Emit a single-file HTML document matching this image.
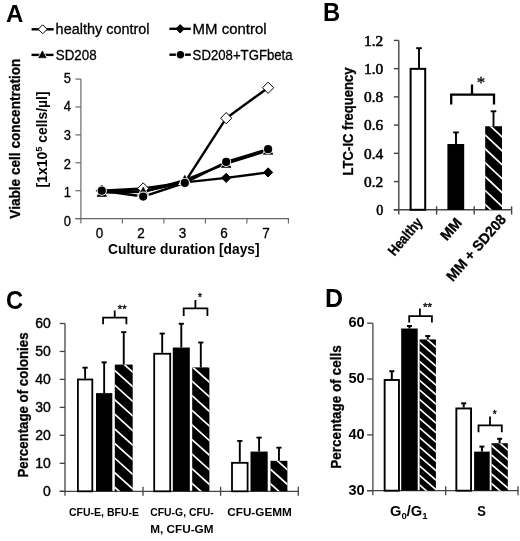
<!DOCTYPE html>
<html><head><meta charset="utf-8"><title>Figure</title>
<style>html,body{margin:0;padding:0;background:#fff;}svg{display:block;}</style>
</head><body>
<svg width="520" height="541" viewBox="0 0 520 541" style="filter:blur(0.45px)">
<rect width="520" height="541" fill="#fff"/>
<text x="6.0" y="21.6" font-size="24.5" font-weight="bold" text-anchor="start" font-family='"Liberation Sans", sans-serif' textLength="17.4" lengthAdjust="spacingAndGlyphs" >A</text>
<text x="323.0" y="20.7" font-size="25" font-weight="bold" text-anchor="start" font-family='"Liberation Sans", sans-serif' textLength="17.2" lengthAdjust="spacingAndGlyphs" >B</text>
<text x="6.0" y="308.6" font-size="25" font-weight="bold" text-anchor="start" font-family='"Liberation Sans", sans-serif' textLength="17.1" lengthAdjust="spacingAndGlyphs" >C</text>
<text x="324.9" y="307.2" font-size="25" font-weight="bold" text-anchor="start" font-family='"Liberation Sans", sans-serif' textLength="18.05" lengthAdjust="spacingAndGlyphs" >D</text>
<g id="panelA">
<line x1="80.9" y1="79.1" x2="80.9" y2="223.6" stroke="#666" stroke-width="1.15" />
<line x1="75.4" y1="218.6" x2="289" y2="218.6" stroke="#666" stroke-width="1.15" />
<line x1="75.4" y1="218.6" x2="80.9" y2="218.6" stroke="#666" stroke-width="1.15" />
<text x="70.9" y="225.9" font-size="14.6" font-weight="normal" text-anchor="end" font-family='"Liberation Sans", sans-serif' textLength="7.2" lengthAdjust="spacingAndGlyphs"  stroke="#000" stroke-width="0.3">0</text>
<line x1="75.4" y1="190.7" x2="80.9" y2="190.7" stroke="#666" stroke-width="1.15" />
<text x="70.9" y="197.26" font-size="14.6" font-weight="normal" text-anchor="end" font-family='"Liberation Sans", sans-serif' textLength="7.2" lengthAdjust="spacingAndGlyphs"  stroke="#000" stroke-width="0.3">1</text>
<line x1="75.4" y1="162.8" x2="80.9" y2="162.8" stroke="#666" stroke-width="1.15" />
<text x="70.9" y="168.62" font-size="14.6" font-weight="normal" text-anchor="end" font-family='"Liberation Sans", sans-serif' textLength="7.2" lengthAdjust="spacingAndGlyphs"  stroke="#000" stroke-width="0.3">2</text>
<line x1="75.4" y1="134.9" x2="80.9" y2="134.9" stroke="#666" stroke-width="1.15" />
<text x="70.9" y="139.98" font-size="14.6" font-weight="normal" text-anchor="end" font-family='"Liberation Sans", sans-serif' textLength="7.2" lengthAdjust="spacingAndGlyphs"  stroke="#000" stroke-width="0.3">3</text>
<line x1="75.4" y1="107.0" x2="80.9" y2="107.0" stroke="#666" stroke-width="1.15" />
<text x="70.9" y="111.34" font-size="14.6" font-weight="normal" text-anchor="end" font-family='"Liberation Sans", sans-serif' textLength="7.2" lengthAdjust="spacingAndGlyphs"  stroke="#000" stroke-width="0.3">4</text>
<line x1="75.4" y1="79.1" x2="80.9" y2="79.1" stroke="#666" stroke-width="1.15" />
<text x="70.9" y="82.7" font-size="14.6" font-weight="normal" text-anchor="end" font-family='"Liberation Sans", sans-serif' textLength="7.2" lengthAdjust="spacingAndGlyphs"  stroke="#000" stroke-width="0.3">5</text>
<line x1="122.4" y1="218.6" x2="122.4" y2="223.6" stroke="#666" stroke-width="1.15" />
<line x1="163.9" y1="218.6" x2="163.9" y2="223.6" stroke="#666" stroke-width="1.15" />
<line x1="205.4" y1="218.6" x2="205.4" y2="223.6" stroke="#666" stroke-width="1.15" />
<line x1="246.9" y1="218.6" x2="246.9" y2="223.6" stroke="#666" stroke-width="1.15" />
<line x1="288.4" y1="218.6" x2="288.4" y2="223.6" stroke="#666" stroke-width="1.15" />
<text x="99.6" y="237.6" font-size="14.3" font-weight="normal" text-anchor="middle" font-family='"Liberation Sans", sans-serif' textLength="7.5" lengthAdjust="spacingAndGlyphs"  stroke="#000" stroke-width="0.3">0</text>
<text x="141.0" y="237.6" font-size="14.3" font-weight="normal" text-anchor="middle" font-family='"Liberation Sans", sans-serif' textLength="7.5" lengthAdjust="spacingAndGlyphs"  stroke="#000" stroke-width="0.3">2</text>
<text x="182.60000000000002" y="237.6" font-size="14.3" font-weight="normal" text-anchor="middle" font-family='"Liberation Sans", sans-serif' textLength="7.5" lengthAdjust="spacingAndGlyphs"  stroke="#000" stroke-width="0.3">3</text>
<text x="224.0" y="237.6" font-size="14.3" font-weight="normal" text-anchor="middle" font-family='"Liberation Sans", sans-serif' textLength="7.5" lengthAdjust="spacingAndGlyphs"  stroke="#000" stroke-width="0.3">6</text>
<text x="265.90000000000003" y="237.6" font-size="14.3" font-weight="normal" text-anchor="middle" font-family='"Liberation Sans", sans-serif' textLength="7.5" lengthAdjust="spacingAndGlyphs"  stroke="#000" stroke-width="0.3">7</text>
<text x="183.8" y="254" font-size="14.2" font-weight="bold" text-anchor="middle" font-family='"Liberation Sans", sans-serif' textLength="151.5" lengthAdjust="spacingAndGlyphs" >Culture duration [days]</text>
<text x="19.8" y="138.7" font-size="15" font-weight="bold" text-anchor="middle" font-family='"Liberation Sans", sans-serif' textLength="160" lengthAdjust="spacingAndGlyphs" transform="rotate(-90 19.8 138.7)" stroke="#000" stroke-width="0.3">Viable cell concentration</text>
<text x="46.6" y="139.4" font-size="14" font-weight="bold" text-anchor="middle" font-family='"Liberation Sans", sans-serif' textLength="96" lengthAdjust="spacingAndGlyphs" transform="rotate(-90 46.6 139.4)" >[1x10<tspan font-size="9.5" dy="-4.3">5</tspan><tspan dy="4.3"> cells/µl]</tspan></text>
<polyline points="101.8,190.7 143.2,191.54 184.8,182.33 226.2,177.87 268.1,172.43" fill="none" stroke="#000" stroke-width="2.4" stroke-linejoin="round"/>
<polyline points="101.8,190.7 143.2,188.47 184.8,182.33 226.2,118.16 268.1,87.75" fill="none" stroke="#000" stroke-width="2.4" stroke-linejoin="round"/>
<polyline points="101.8,192.65 143.2,191.82 184.8,180.1 226.2,163.64 268.1,150.52" fill="none" stroke="#000" stroke-width="2.4" stroke-linejoin="round"/>
<polyline points="101.8,190.7 143.2,196.56 184.8,182.89 226.2,161.96 268.1,149.13" fill="none" stroke="#000" stroke-width="2.4" stroke-linejoin="round"/>
<path d="M97.2 190.7 L101.8 186.1 L106.39999999999999 190.7 L101.8 195.29999999999998 Z" fill="#000" stroke="#000" stroke-width="1"/>
<path d="M138.6 191.54 L143.2 186.94 L147.79999999999998 191.54 L143.2 196.14 Z" fill="#000" stroke="#000" stroke-width="1"/>
<path d="M180.20000000000002 182.33 L184.8 177.73000000000002 L189.4 182.33 L184.8 186.93 Z" fill="#000" stroke="#000" stroke-width="1"/>
<path d="M221.6 177.87 L226.2 173.27 L230.79999999999998 177.87 L226.2 182.47 Z" fill="#000" stroke="#000" stroke-width="1"/>
<path d="M263.5 172.43 L268.1 167.83 L272.70000000000005 172.43 L268.1 177.03 Z" fill="#000" stroke="#000" stroke-width="1"/>
<path d="M96.2 190.7 L101.8 185.1 L107.39999999999999 190.7 L101.8 196.29999999999998 Z" fill="#fff" stroke="#000" stroke-width="1"/>
<path d="M137.6 188.47 L143.2 182.87 L148.79999999999998 188.47 L143.2 194.07 Z" fill="#fff" stroke="#000" stroke-width="1"/>
<path d="M179.20000000000002 182.33 L184.8 176.73000000000002 L190.4 182.33 L184.8 187.93 Z" fill="#fff" stroke="#000" stroke-width="1"/>
<path d="M220.6 118.16 L226.2 112.56 L231.79999999999998 118.16 L226.2 123.75999999999999 Z" fill="#fff" stroke="#000" stroke-width="1"/>
<path d="M262.5 87.75 L268.1 82.15 L273.70000000000005 87.75 L268.1 93.35 Z" fill="#fff" stroke="#000" stroke-width="1"/>
<path d="M97.0 196.49 L101.8 187.85 L106.6 196.49 Z" fill="#000" stroke="#fff" stroke-width="2.2" stroke-linejoin="miter"/>
<path d="M97.0 196.49 L101.8 187.85 L106.6 196.49 Z" fill="#000" stroke="#000" stroke-width="0.6"/>
<path d="M138.4 195.66 L143.2 187.02 L148.0 195.66 Z" fill="#000" stroke="#fff" stroke-width="2.2" stroke-linejoin="miter"/>
<path d="M138.4 195.66 L143.2 187.02 L148.0 195.66 Z" fill="#000" stroke="#000" stroke-width="0.6"/>
<path d="M180.0 183.94 L184.8 175.3 L189.6 183.94 Z" fill="#000" stroke="#fff" stroke-width="2.2" stroke-linejoin="miter"/>
<path d="M180.0 183.94 L184.8 175.3 L189.6 183.94 Z" fill="#000" stroke="#000" stroke-width="0.6"/>
<path d="M221.4 167.48 L226.2 158.84 L231.0 167.48 Z" fill="#000" stroke="#fff" stroke-width="2.2" stroke-linejoin="miter"/>
<path d="M221.4 167.48 L226.2 158.84 L231.0 167.48 Z" fill="#000" stroke="#000" stroke-width="0.6"/>
<path d="M263.3 154.36 L268.1 145.72 L272.9 154.36 Z" fill="#000" stroke="#fff" stroke-width="2.2" stroke-linejoin="miter"/>
<path d="M263.3 154.36 L268.1 145.72 L272.9 154.36 Z" fill="#000" stroke="#000" stroke-width="0.6"/>
<circle cx="101.8" cy="190.7" r="5.0" fill="#fff"/>
<circle cx="101.8" cy="190.7" r="4.1" fill="#000"/>
<circle cx="143.2" cy="196.56" r="5.0" fill="#fff"/>
<circle cx="143.2" cy="196.56" r="4.1" fill="#000"/>
<circle cx="184.8" cy="182.89" r="5.0" fill="#fff"/>
<circle cx="184.8" cy="182.89" r="4.1" fill="#000"/>
<circle cx="226.2" cy="161.96" r="5.0" fill="#fff"/>
<circle cx="226.2" cy="161.96" r="4.1" fill="#000"/>
<circle cx="268.1" cy="149.13" r="5.0" fill="#fff"/>
<circle cx="268.1" cy="149.13" r="4.1" fill="#000"/>
<line x1="31.6" y1="29.3" x2="53.7" y2="29.3" stroke="#000" stroke-width="2.4" />
<path d="M38.2 29.3 L42.7 24.8 L47.2 29.3 L42.7 33.8 Z" fill="#fff" stroke="#000" stroke-width="1"/>
<text x="55.6" y="33.8" font-size="14" font-weight="normal" text-anchor="start" font-family='"Liberation Sans", sans-serif' textLength="94" lengthAdjust="spacingAndGlyphs"  stroke="#000" stroke-width="0.3">healthy control</text>
<line x1="31.5" y1="54.9" x2="53.5" y2="54.9" stroke="#000" stroke-width="2.4" />
<path d="M38.6 57.74 L42.4 50.9 L46.2 57.74 Z" fill="#000" stroke="#fff" stroke-width="2.2" stroke-linejoin="miter"/>
<path d="M38.6 57.74 L42.4 50.9 L46.2 57.74 Z" fill="#000" stroke="#000" stroke-width="0.6"/>
<text x="55.8" y="59.9" font-size="15" font-weight="normal" text-anchor="start" font-family='"Liberation Sans", sans-serif' textLength="40.8" lengthAdjust="spacingAndGlyphs"  stroke="#000" stroke-width="0.3">SD208</text>
<line x1="169.4" y1="28.8" x2="190.8" y2="28.8" stroke="#000" stroke-width="2.4" />
<path d="M176.0 28.8 L180.2 24.6 L184.39999999999998 28.8 L180.2 33.0 Z" fill="#000" stroke="#000" stroke-width="1"/>
<text x="192.6" y="33.6" font-size="14.3" font-weight="normal" text-anchor="start" font-family='"Liberation Sans", sans-serif' textLength="74" lengthAdjust="spacingAndGlyphs"  stroke="#000" stroke-width="0.3">MM control</text>
<line x1="169.4" y1="54.7" x2="190.8" y2="54.7" stroke="#000" stroke-width="2.4" />
<circle cx="180.4" cy="54.7" r="4.6000000000000005" fill="#fff"/>
<circle cx="180.4" cy="54.7" r="3.7" fill="#000"/>
<text x="192.6" y="59.7" font-size="15" font-weight="normal" text-anchor="start" font-family='"Liberation Sans", sans-serif' textLength="100" lengthAdjust="spacingAndGlyphs"  stroke="#000" stroke-width="0.3">SD208+TGFbeta</text>
</g>
<g id="panelB">
<line x1="398.8" y1="40.42" x2="398.8" y2="214.60000000000002" stroke="#444" stroke-width="1.4" />
<line x1="393.8" y1="209.8" x2="512" y2="209.8" stroke="#444" stroke-width="1.4" />
<line x1="393.8" y1="209.8" x2="398.8" y2="209.8" stroke="#444" stroke-width="1.4" />
<text x="383.3" y="215.0" font-size="15" font-weight="normal" text-anchor="end" font-family='"Liberation Serif", serif' textLength="7" lengthAdjust="spacingAndGlyphs" stroke="#000" stroke-width="0.55">0</text>
<line x1="393.8" y1="181.57" x2="398.8" y2="181.57" stroke="#444" stroke-width="1.4" />
<text x="383.3" y="186.76999999999998" font-size="15" font-weight="normal" text-anchor="end" font-family='"Liberation Serif", serif' textLength="19.2" lengthAdjust="spacingAndGlyphs" stroke="#000" stroke-width="0.55">0.2</text>
<line x1="393.8" y1="153.34" x2="398.8" y2="153.34" stroke="#444" stroke-width="1.4" />
<text x="383.3" y="158.54" font-size="15" font-weight="normal" text-anchor="end" font-family='"Liberation Serif", serif' textLength="19.2" lengthAdjust="spacingAndGlyphs" stroke="#000" stroke-width="0.55">0.4</text>
<line x1="393.8" y1="125.11" x2="398.8" y2="125.11" stroke="#444" stroke-width="1.4" />
<text x="383.3" y="130.31" font-size="15" font-weight="normal" text-anchor="end" font-family='"Liberation Serif", serif' textLength="19.2" lengthAdjust="spacingAndGlyphs" stroke="#000" stroke-width="0.55">0.6</text>
<line x1="393.8" y1="96.88" x2="398.8" y2="96.88" stroke="#444" stroke-width="1.4" />
<text x="383.3" y="102.08" font-size="15" font-weight="normal" text-anchor="end" font-family='"Liberation Serif", serif' textLength="19.2" lengthAdjust="spacingAndGlyphs" stroke="#000" stroke-width="0.55">0.8</text>
<line x1="393.8" y1="68.65" x2="398.8" y2="68.65" stroke="#444" stroke-width="1.4" />
<text x="383.3" y="73.85000000000001" font-size="15" font-weight="normal" text-anchor="end" font-family='"Liberation Serif", serif' textLength="19.2" lengthAdjust="spacingAndGlyphs" stroke="#000" stroke-width="0.55">1.0</text>
<line x1="393.8" y1="40.42" x2="398.8" y2="40.42" stroke="#444" stroke-width="1.4" />
<text x="383.3" y="45.620000000000005" font-size="15" font-weight="normal" text-anchor="end" font-family='"Liberation Serif", serif' textLength="19.2" lengthAdjust="spacingAndGlyphs" stroke="#000" stroke-width="0.55">1.2</text>
<line x1="436.6" y1="206.3" x2="436.6" y2="214.60000000000002" stroke="#444" stroke-width="1.4" />
<line x1="474.2" y1="206.3" x2="474.2" y2="214.60000000000002" stroke="#444" stroke-width="1.4" />
<line x1="511.6" y1="206.3" x2="511.6" y2="214.60000000000002" stroke="#444" stroke-width="1.4" />
<text x="353.0" y="121.4" font-size="15.3" font-weight="bold" text-anchor="middle" font-family='"Liberation Sans", sans-serif' textLength="108" lengthAdjust="spacingAndGlyphs" transform="rotate(-90 353.0 121.4)" stroke="#000" stroke-width="0.3">LTC-IC frequency</text>
<rect x="410.6" y="68.85" width="14.6" height="140.95" fill="#fff" stroke="#000" stroke-width="2"/>
<line x1="419" y1="68.65" x2="419" y2="48.18" stroke="#000" stroke-width="1.9" />
<line x1="416.2" y1="48.18" x2="421.8" y2="48.18" stroke="#000" stroke-width="1.9" />
<rect x="447.4" y="144.02" width="16.8" height="65.78" fill="#000"/>
<line x1="456" y1="144.02" x2="456" y2="132.45" stroke="#000" stroke-width="1.9" />
<line x1="453.2" y1="132.45" x2="458.8" y2="132.45" stroke="#000" stroke-width="1.9" />
<clipPath id="hc1"><rect x="485.2" y="126.24" width="16.8" height="83.56"/></clipPath>
<rect x="485.2" y="126.24" width="16.8" height="83.56" fill="#000"/>
<path d="M484.2 217.46 L503.0 235.13 M484.2 203.56 L503.0 221.23 M484.2 189.66 L503.0 207.33 M484.2 175.76 L503.0 193.43 M484.2 161.86 L503.0 179.53 M484.2 147.96 L503.0 165.63 M484.2 134.06 L503.0 151.73 M484.2 120.16 L503.0 137.83 M484.2 106.26 L503.0 123.93" stroke="#fff" stroke-width="1.7" fill="none" clip-path="url(#hc1)"/>
<line x1="493.5" y1="126.24" x2="493.5" y2="111.28" stroke="#000" stroke-width="1.9" />
<line x1="490.7" y1="111.28" x2="496.3" y2="111.28" stroke="#000" stroke-width="1.9" />
<path d="M451.2 104.6 V94.6 H494 V104.6 M472 94.6 V84.4" fill="none" stroke="#000" stroke-width="2.3"/>
<text x="481" y="88" font-size="17" font-weight="normal" text-anchor="middle" font-family='"Liberation Serif", serif'  stroke="#000" stroke-width="0.3">*</text>
<text x="423.3" y="222.8" font-size="14.5" font-weight="bold" text-anchor="end" font-family='"Liberation Sans", sans-serif' textLength="44.5" lengthAdjust="spacingAndGlyphs" transform="rotate(-49.5 423.3 222.8)" stroke="#000" stroke-width="0.3">Healthy</text>
<text x="462.6" y="223.3" font-size="14.5" font-weight="bold" text-anchor="end" font-family='"Liberation Sans", sans-serif' textLength="24.2" lengthAdjust="spacingAndGlyphs" transform="rotate(-49 462.6 223.3)" stroke="#000" stroke-width="0.3">MM</text>
<text x="507" y="219.9" font-size="14.5" font-weight="bold" text-anchor="end" font-family='"Liberation Sans", sans-serif' textLength="82.5" lengthAdjust="spacingAndGlyphs" transform="rotate(-49 507 219.9)" stroke="#000" stroke-width="0.3">MM + SD208</text>
</g>
<g id="panelC">
<line x1="65.0" y1="323.48" x2="65.0" y2="495.8" stroke="#444" stroke-width="1.3" />
<line x1="59.7" y1="491.3" x2="298.8" y2="491.3" stroke="#444" stroke-width="1.3" />
<line x1="59.7" y1="491.3" x2="65.0" y2="491.3" stroke="#444" stroke-width="1.3" />
<text x="50.8" y="496.3" font-size="14" font-weight="normal" text-anchor="end" font-family='"Liberation Sans", sans-serif' stroke="#000" stroke-width="0.4">0</text>
<line x1="59.7" y1="463.33" x2="65.0" y2="463.33" stroke="#444" stroke-width="1.3" />
<text x="50.8" y="468.33" font-size="14" font-weight="normal" text-anchor="end" font-family='"Liberation Sans", sans-serif' stroke="#000" stroke-width="0.4">10</text>
<line x1="59.7" y1="435.36" x2="65.0" y2="435.36" stroke="#444" stroke-width="1.3" />
<text x="50.8" y="440.36" font-size="14" font-weight="normal" text-anchor="end" font-family='"Liberation Sans", sans-serif' stroke="#000" stroke-width="0.4">20</text>
<line x1="59.7" y1="407.39" x2="65.0" y2="407.39" stroke="#444" stroke-width="1.3" />
<text x="50.8" y="412.39" font-size="14" font-weight="normal" text-anchor="end" font-family='"Liberation Sans", sans-serif' stroke="#000" stroke-width="0.4">30</text>
<line x1="59.7" y1="379.42" x2="65.0" y2="379.42" stroke="#444" stroke-width="1.3" />
<text x="50.8" y="384.42" font-size="14" font-weight="normal" text-anchor="end" font-family='"Liberation Sans", sans-serif' stroke="#000" stroke-width="0.4">40</text>
<line x1="59.7" y1="351.45" x2="65.0" y2="351.45" stroke="#444" stroke-width="1.3" />
<text x="50.8" y="356.45" font-size="14" font-weight="normal" text-anchor="end" font-family='"Liberation Sans", sans-serif' stroke="#000" stroke-width="0.4">50</text>
<line x1="59.7" y1="323.48" x2="65.0" y2="323.48" stroke="#444" stroke-width="1.3" />
<text x="50.8" y="328.48" font-size="14" font-weight="normal" text-anchor="end" font-family='"Liberation Sans", sans-serif' stroke="#000" stroke-width="0.4">60</text>
<line x1="143" y1="486.8" x2="143" y2="495.8" stroke="#444" stroke-width="1.3" />
<line x1="220.6" y1="486.8" x2="220.6" y2="495.8" stroke="#444" stroke-width="1.3" />
<line x1="298.3" y1="486.8" x2="298.3" y2="495.8" stroke="#444" stroke-width="1.3" />
<text x="27.6" y="405" font-size="14" font-weight="bold" text-anchor="middle" font-family='"Liberation Sans", sans-serif' textLength="145" lengthAdjust="spacingAndGlyphs" transform="rotate(-90 27.6 405)" stroke="#000" stroke-width="0.3">Percentage of colonies</text>
<rect x="77.9" y="379.48" width="14.4" height="111.82" fill="#fff" stroke="#000" stroke-width="1.8"/>
<line x1="85.1" y1="378.58" x2="85.1" y2="367.67" stroke="#000" stroke-width="1.9" />
<line x1="82.5" y1="367.67" x2="87.69999999999999" y2="367.67" stroke="#000" stroke-width="1.9" />
<rect x="96.0" y="393.13" width="16.3" height="98.17" fill="#000"/>
<line x1="104.15" y1="393.13" x2="104.15" y2="362.36" stroke="#000" stroke-width="1.9" />
<line x1="101.55000000000001" y1="362.36" x2="106.75" y2="362.36" stroke="#000" stroke-width="1.9" />
<clipPath id="hc2"><rect x="114.8" y="364.6" width="17.9" height="126.7"/></clipPath>
<rect x="114.8" y="364.6" width="17.9" height="126.7" fill="#000"/>
<path d="M113.8 501.1 L133.7 519.01 M113.8 486.5 L133.7 504.41 M113.8 471.9 L133.7 489.81 M113.8 457.3 L133.7 475.21 M113.8 442.7 L133.7 460.61 M113.8 428.1 L133.7 446.01 M113.8 413.5 L133.7 431.41 M113.8 398.9 L133.7 416.81 M113.8 384.3 L133.7 402.21 M113.8 369.7 L133.7 387.61 M113.8 355.1 L133.7 373.01 M113.8 340.5 L133.7 358.41" stroke="#fff" stroke-width="1.7" fill="none" clip-path="url(#hc2)"/>
<line x1="123.75" y1="364.6" x2="123.75" y2="332.15" stroke="#000" stroke-width="1.9" />
<line x1="121.15" y1="332.15" x2="126.35" y2="332.15" stroke="#000" stroke-width="1.9" />
<rect x="154.2" y="353.75" width="16.0" height="137.55" fill="#fff" stroke="#000" stroke-width="1.8"/>
<line x1="162.2" y1="352.85" x2="162.2" y2="333.55" stroke="#000" stroke-width="1.9" />
<line x1="159.6" y1="333.55" x2="164.79999999999998" y2="333.55" stroke="#000" stroke-width="1.9" />
<rect x="172.8" y="347.53" width="17.0" height="143.77" fill="#000"/>
<line x1="181.3" y1="347.53" x2="181.3" y2="323.76" stroke="#000" stroke-width="1.9" />
<line x1="178.70000000000002" y1="323.76" x2="183.9" y2="323.76" stroke="#000" stroke-width="1.9" />
<clipPath id="hc3"><rect x="192.2" y="367.39" width="17.2" height="123.91"/></clipPath>
<rect x="192.2" y="367.39" width="17.2" height="123.91" fill="#000"/>
<path d="M191.2 497.2 L210.4 514.48 M191.2 482.6 L210.4 499.88 M191.2 468.0 L210.4 485.28 M191.2 453.4 L210.4 470.68 M191.2 438.8 L210.4 456.08 M191.2 424.2 L210.4 441.48 M191.2 409.6 L210.4 426.88 M191.2 395.0 L210.4 412.28 M191.2 380.4 L210.4 397.68 M191.2 365.8 L210.4 383.08 M191.2 351.2 L210.4 368.48 M191.2 336.6 L210.4 353.88" stroke="#fff" stroke-width="1.7" fill="none" clip-path="url(#hc3)"/>
<line x1="200.8" y1="367.39" x2="200.8" y2="342.5" stroke="#000" stroke-width="1.9" />
<line x1="198.20000000000002" y1="342.5" x2="203.4" y2="342.5" stroke="#000" stroke-width="1.9" />
<rect x="232.0" y="462.83" width="15.6" height="28.47" fill="#fff" stroke="#000" stroke-width="1.8"/>
<line x1="239.8" y1="461.93" x2="239.8" y2="440.95" stroke="#000" stroke-width="1.9" />
<line x1="237.20000000000002" y1="440.95" x2="242.4" y2="440.95" stroke="#000" stroke-width="1.9" />
<rect x="250.5" y="451.58" width="17.2" height="39.72" fill="#000"/>
<line x1="259.1" y1="451.58" x2="259.1" y2="437.6" stroke="#000" stroke-width="1.9" />
<line x1="256.5" y1="437.6" x2="261.70000000000005" y2="437.6" stroke="#000" stroke-width="1.9" />
<clipPath id="hc4"><rect x="270.5" y="460.81" width="16.9" height="30.49"/></clipPath>
<rect x="270.5" y="460.81" width="16.9" height="30.49" fill="#000"/>
<path d="M269.5 497.5 L288.4 514.51 M269.5 482.9 L288.4 499.91 M269.5 468.3 L288.4 485.31 M269.5 453.7 L288.4 470.71 M269.5 439.1 L288.4 456.11" stroke="#fff" stroke-width="1.7" fill="none" clip-path="url(#hc4)"/>
<line x1="278.95" y1="460.81" x2="278.95" y2="447.67" stroke="#000" stroke-width="1.9" />
<line x1="276.34999999999997" y1="447.67" x2="281.55" y2="447.67" stroke="#000" stroke-width="1.9" />
<path d="M103.1 324.2 V317.6 H126.4 V324.2 M114.7 317.6 V310.6" fill="none" stroke="#000" stroke-width="1.8"/>
<text x="122.2" y="312.5" font-size="10" font-weight="normal" text-anchor="middle" font-family='"Liberation Sans", sans-serif' textLength="8.7" lengthAdjust="spacingAndGlyphs"  stroke="#000" stroke-width="0.3">**</text>
<path d="M183.7 316 V308.3 H207.4 V316 M195.4 308.3 V300" fill="none" stroke="#000" stroke-width="1.8"/>
<text x="200" y="300.5" font-size="10" font-weight="normal" text-anchor="middle" font-family='"Liberation Sans", sans-serif'  stroke="#000" stroke-width="0.3">*</text>
<text x="104" y="516.2" font-size="11" font-weight="bold" text-anchor="middle" font-family='"Liberation Sans", sans-serif' textLength="70" lengthAdjust="spacingAndGlyphs" >CFU-E, BFU-E</text>
<text x="150.2" y="516" font-size="11" font-weight="bold" text-anchor="start" font-family='"Liberation Sans", sans-serif' textLength="63.6" lengthAdjust="spacingAndGlyphs" >CFU-G, CFU-</text>
<text x="150.2" y="533.3" font-size="11" font-weight="bold" text-anchor="start" font-family='"Liberation Sans", sans-serif' textLength="63.3" lengthAdjust="spacingAndGlyphs" >M, CFU-GM</text>
<text x="259.5" y="516" font-size="11" font-weight="bold" text-anchor="middle" font-family='"Liberation Sans", sans-serif' textLength="64.5" lengthAdjust="spacingAndGlyphs" >CFU-GEMM</text>
</g>
<g id="panelD">
<line x1="372.9" y1="323.21" x2="372.9" y2="495.2" stroke="#444" stroke-width="1.3" />
<line x1="367.09999999999997" y1="490.7" x2="518.5" y2="490.7" stroke="#444" stroke-width="1.3" />
<line x1="367.09999999999997" y1="490.7" x2="372.9" y2="490.7" stroke="#444" stroke-width="1.3" />
<text x="364.7" y="494.59999999999997" font-size="14.2" font-weight="bold" text-anchor="end" font-family='"Liberation Sans", sans-serif' textLength="16.2" lengthAdjust="spacingAndGlyphs" >30</text>
<line x1="367.09999999999997" y1="434.87" x2="372.9" y2="434.87" stroke="#444" stroke-width="1.3" />
<text x="364.7" y="438.77" font-size="14.2" font-weight="bold" text-anchor="end" font-family='"Liberation Sans", sans-serif' textLength="16.2" lengthAdjust="spacingAndGlyphs" >40</text>
<line x1="367.09999999999997" y1="379.04" x2="372.9" y2="379.04" stroke="#444" stroke-width="1.3" />
<text x="364.7" y="382.94" font-size="14.2" font-weight="bold" text-anchor="end" font-family='"Liberation Sans", sans-serif' textLength="16.2" lengthAdjust="spacingAndGlyphs" >50</text>
<line x1="367.09999999999997" y1="323.21" x2="372.9" y2="323.21" stroke="#444" stroke-width="1.3" />
<text x="364.7" y="327.10999999999996" font-size="14.2" font-weight="bold" text-anchor="end" font-family='"Liberation Sans", sans-serif' textLength="16.2" lengthAdjust="spacingAndGlyphs" >60</text>
<line x1="445.7" y1="486.2" x2="445.7" y2="495.2" stroke="#444" stroke-width="1.3" />
<line x1="518" y1="486.2" x2="518" y2="495.2" stroke="#444" stroke-width="1.3" />
<text x="341.2" y="407" font-size="14.3" font-weight="bold" text-anchor="middle" font-family='"Liberation Sans", sans-serif' textLength="123.5" lengthAdjust="spacingAndGlyphs" transform="rotate(-90 341.2 407)" stroke="#000" stroke-width="0.3">Percentage of cells</text>
<rect x="384.65" y="379.99" width="14.3" height="110.71" fill="#fff" stroke="#000" stroke-width="1.9"/>
<line x1="391.8" y1="379.04" x2="391.8" y2="371.22" stroke="#000" stroke-width="2.0" />
<line x1="389.3" y1="371.22" x2="394.3" y2="371.22" stroke="#000" stroke-width="2.0" />
<rect x="401.2" y="328.51" width="16.5" height="162.19" fill="#000"/>
<line x1="409.45" y1="328.51" x2="409.45" y2="326.0" stroke="#000" stroke-width="2.0" />
<line x1="406.95" y1="326.0" x2="411.95" y2="326.0" stroke="#000" stroke-width="2.0" />
<clipPath id="hc5"><rect x="419.6" y="339.4" width="16.3" height="151.3"/></clipPath>
<rect x="419.6" y="339.4" width="16.3" height="151.3" fill="#000"/>
<path d="M418.6 493.64 L436.9 509.38 M418.6 484.14 L436.9 499.88 M418.6 474.64 L436.9 490.38 M418.6 465.14 L436.9 480.88 M418.6 455.64 L436.9 471.38 M418.6 446.14 L436.9 461.88 M418.6 436.64 L436.9 452.38 M418.6 427.14 L436.9 442.88 M418.6 417.64 L436.9 433.38 M418.6 408.14 L436.9 423.88 M418.6 398.64 L436.9 414.38 M418.6 389.14 L436.9 404.88 M418.6 379.64 L436.9 395.38 M418.6 370.14 L436.9 385.88 M418.6 360.64 L436.9 376.38 M418.6 351.14 L436.9 366.88 M418.6 341.64 L436.9 357.38 M418.6 332.14 L436.9 347.88 M418.6 322.64 L436.9 338.38" stroke="#fff" stroke-width="1.7" fill="none" clip-path="url(#hc5)"/>
<line x1="427.75" y1="339.4" x2="427.75" y2="336.05" stroke="#000" stroke-width="2.0" />
<line x1="425.25" y1="336.05" x2="430.25" y2="336.05" stroke="#000" stroke-width="2.0" />
<rect x="456.35" y="408.46" width="14.7" height="82.24" fill="#fff" stroke="#000" stroke-width="1.9"/>
<line x1="463.7" y1="407.51" x2="463.7" y2="403.33" stroke="#000" stroke-width="2.0" />
<line x1="461.2" y1="403.33" x2="466.2" y2="403.33" stroke="#000" stroke-width="2.0" />
<rect x="474.1" y="451.62" width="15.6" height="39.08" fill="#000"/>
<line x1="481.9" y1="451.62" x2="481.9" y2="446.59" stroke="#000" stroke-width="2.0" />
<line x1="479.4" y1="446.59" x2="484.4" y2="446.59" stroke="#000" stroke-width="2.0" />
<clipPath id="hc6"><rect x="491.5" y="443.24" width="16.3" height="47.46"/></clipPath>
<rect x="491.5" y="443.24" width="16.3" height="47.46" fill="#000"/>
<path d="M490.5 492.14 L508.8 507.88 M490.5 482.64 L508.8 498.38 M490.5 473.14 L508.8 488.88 M490.5 463.64 L508.8 479.38 M490.5 454.14 L508.8 469.88 M490.5 444.64 L508.8 460.38 M490.5 435.14 L508.8 450.88 M490.5 425.64 L508.8 441.38" stroke="#fff" stroke-width="1.7" fill="none" clip-path="url(#hc6)"/>
<line x1="499.65" y1="443.24" x2="499.65" y2="438.78" stroke="#000" stroke-width="2.0" />
<line x1="497.15" y1="438.78" x2="502.15" y2="438.78" stroke="#000" stroke-width="2.0" />
<path d="M409.2 322.6 V316.2 H431.9 V322.6 M419.9 316.2 V308.5" fill="none" stroke="#000" stroke-width="1.8"/>
<text x="427.6" y="310.5" font-size="10" font-weight="normal" text-anchor="middle" font-family='"Liberation Sans", sans-serif' textLength="9" lengthAdjust="spacingAndGlyphs"  stroke="#000" stroke-width="0.3">**</text>
<path d="M478.5 432.3 V425.4 H501.8 V432.3 M490 425.4 V416.5" fill="none" stroke="#000" stroke-width="1.8"/>
<text x="494.6" y="418" font-size="10" font-weight="normal" text-anchor="middle" font-family='"Liberation Sans", sans-serif'  stroke="#000" stroke-width="0.3">*</text>
<text x="390.0" y="515.8" font-size="14.5" font-weight="bold" text-anchor="start" font-family='"Liberation Sans", sans-serif' textLength="37.6" lengthAdjust="spacingAndGlyphs" >G<tspan font-size="9.5" dy="3.2">0</tspan><tspan dy="-3.2">/G</tspan><tspan font-size="9.5" dy="3.2">1</tspan></text>
<text x="481.6" y="515.8" font-size="14.5" font-weight="bold" text-anchor="middle" font-family='"Liberation Sans", sans-serif' textLength="8.6" lengthAdjust="spacingAndGlyphs" >S</text>
</g>
</svg>
</body></html>
